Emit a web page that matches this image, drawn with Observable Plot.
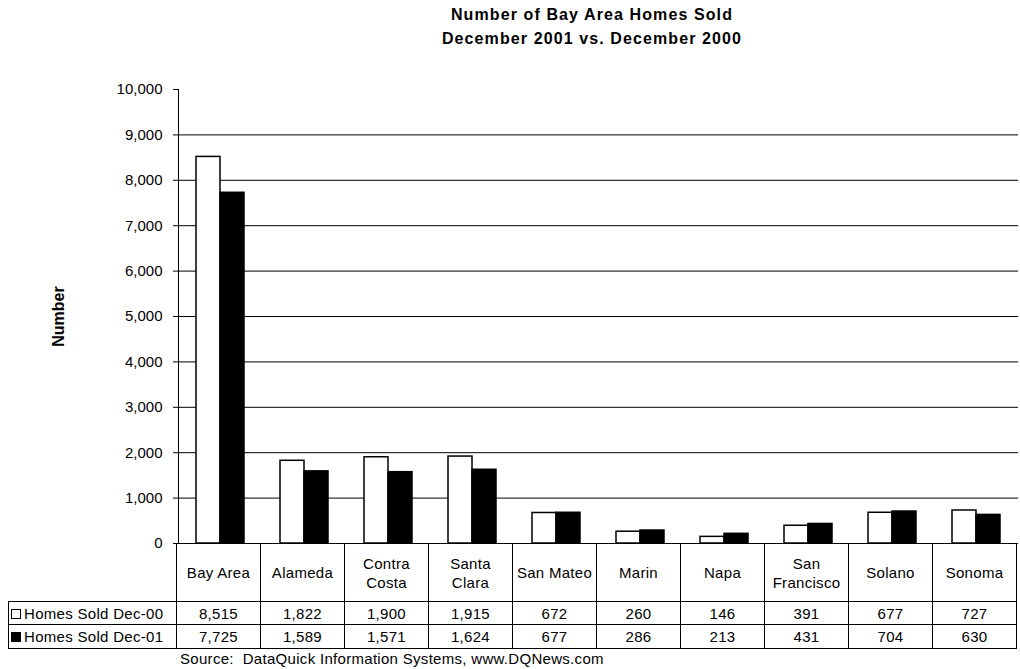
<!DOCTYPE html>
<html>
<head>
<meta charset="utf-8">
<script src="https://cdn.jsdelivr.net/npm/d3@7"></script>
<script src="https://cdn.jsdelivr.net/npm/@observablehq/plot@0.6"></script>
<style>
  body { margin: 0; background: #fff; font-family: "Liberation Sans", Arial, sans-serif; color: #000; }
  #wrap { position: relative; width: 1020px; height: 669px; overflow: hidden; }
  #title { position: absolute; left: 170px; width: 844px; top: 3px; text-align: center;
           font-weight: bold; font-size: 16px; line-height: 24px; letter-spacing: 1.1px; }
  #chart { position: absolute; left: 0; top: 0; }
  #chart g[aria-label="y-axis label"] text { font-weight: bold; font-size: 16px; }
  table { position: absolute; left: 8px; top: 543px; border-collapse: collapse; table-layout: fixed;
          font-size: 15px; letter-spacing: 0.3px; }
  td { border: 1px solid #000; padding: 0; text-align: center; vertical-align: middle; white-space: nowrap; overflow: hidden; }
  tr.head td { height: 57px; line-height: 19px; }
  tr.head td.blank { border-top: none; border-left: none; border-bottom: 1px solid #000; }
  tr.r1 td { height: 22px; }
  tr.r2 td { height: 23px; }
  td.leg { text-align: left; padding-left: 2px; }
  .sw { display: inline-block; width: 8px; height: 8px; border: 1.5px solid #000; margin-right: 3px; vertical-align: 0px; }
  #source { position: absolute; left: 180px; top: 650px; font-size: 15px; letter-spacing: 0.3px; }
</style>
</head>
<body>
<div id="wrap">
  <div id="chart"></div>
  <div id="title">Number of Bay Area Homes Sold<br>December 2001 vs. December 2000</div>
  <table id="datatable"></table>
  <div id="source">Source:&nbsp; DataQuick Information Systems, www.DQNews.com</div>
</div>
<script>
// ---- data ----
const categories = ["Bay Area", "Alameda", "Contra Costa", "Santa Clara", "San Mateo", "Marin", "Napa", "San Francisco", "Solano", "Sonoma"];
const categoryLabels = [["Bay Area"], ["Alameda"], ["Contra", "Costa"], ["Santa", "Clara"], ["San Mateo"], ["Marin"], ["Napa"], ["San", "Francisco"], ["Solano"], ["Sonoma"]];
const seriesNames = ["Homes Sold Dec-00", "Homes Sold Dec-01"];
const soldDec00 = [8515, 1822, 1900, 1915, 672, 260, 146, 391, 677, 727];
const soldDec01 = [7725, 1589, 1571, 1624, 677, 286, 213, 431, 704, 630];
const yTicks = [0, 1000, 2000, 3000, 4000, 5000, 6000, 7000, 8000, 9000, 10000];
const gridTicks = [1000, 2000, 3000, 4000, 5000, 6000, 7000, 8000, 9000];
const seriesColors = ["#ffffff", "#000000"];

const seriesValues = [soldDec00, soldDec01];
const rows = categories.flatMap((c, i) => seriesNames.map((s, j) => ({category: c, series: s, value: seriesValues[j][i]})));
const fmt = d3.format(",d");

const chart = Plot.plot({
  width: 1020,
  height: 562,
  marginLeft: 176,
  marginRight: 0,
  marginTop: 89,
  marginBottom: 19,
  style: {fontFamily: "Liberation Sans, Arial, sans-serif", fontSize: "15px", background: "transparent", color: "#000"},
  fx: {domain: categories, padding: 0, axis: null},
  x: {domain: seriesNames, paddingInner: 0, paddingOuter: 0.69, axis: null},
  y: {domain: [0, 10000], axis: null},
  color: {domain: seriesNames, range: seriesColors},
  marks: [
    Plot.gridY(gridTicks, {stroke: "#000", strokeOpacity: 1, strokeWidth: 1}),
    Plot.ruleY([0], {stroke: "#000", strokeWidth: 1}),
    Plot.barY(rows, {fx: "category", x: "series", y: "value", fill: "series", stroke: "#000", strokeWidth: 1.5}),
    Plot.frame({anchor: "left", fx: [categories[0]], stroke: "#000"}),
    Plot.axisY(yTicks, {tickFormat: fmt, tickSize: 5, tickPadding: 11, label: "Number", labelAnchor: "center", labelOffset: 126, labelArrow: false, fontSize: 15})
  ]
});
document.getElementById("chart").appendChild(chart);

// ---- data table below the plot, aligned to the fx scale ----
const fx = chart.scale("fx");
const step = fx.step !== undefined ? fx.step : (1020 - 176) / categories.length;
const legendWidth = 176 - 8;
const table = d3.select("#datatable");
table.style("width", (legendWidth + step * categories.length) + "px");
const cg = table.append("colgroup");
cg.append("col").style("width", legendWidth + "px");
categories.forEach(() => cg.append("col").style("width", step + "px"));

const head = table.append("tr").attr("class", "head");
head.append("td").attr("class", "blank");
categoryLabels.forEach(lines => head.append("td").html(lines.join("<br>")));

seriesNames.forEach((s, j) => {
  const tr = table.append("tr").attr("class", j === 0 ? "r1" : "r2");
  const leg = tr.append("td").attr("class", "leg");
  leg.append("span").attr("class", "sw").style("background", seriesColors[j]);
  leg.append("span").text(s);
  seriesValues[j].forEach(v => tr.append("td").text(fmt(v)));
});
</script>
</body>
</html>
